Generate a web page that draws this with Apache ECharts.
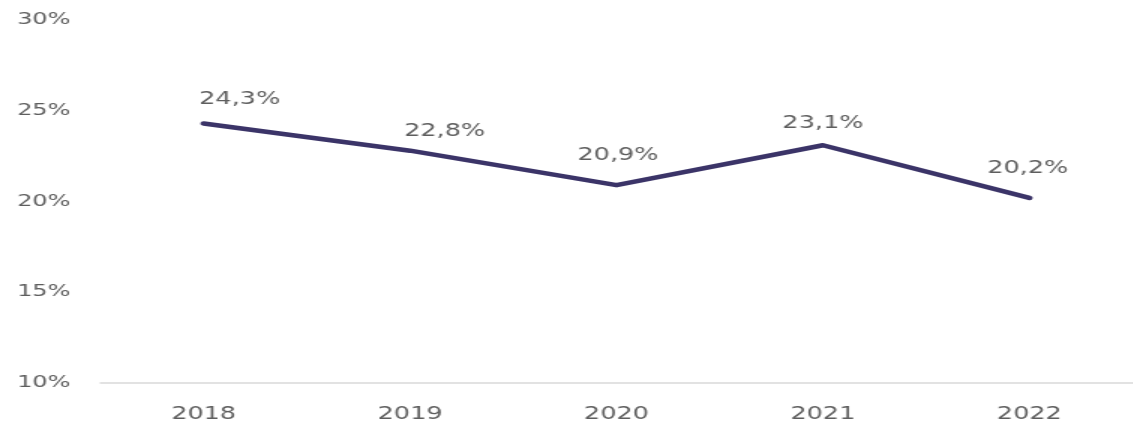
<!DOCTYPE html>
<html>
<head>
<meta charset="utf-8">
<script src="https://cdn.jsdelivr.net/npm/echarts@6/dist/echarts.min.js"></script>
<style>
html,body{margin:0;padding:0;background:#fff;overflow:hidden;}
#wrap{width:1133px;height:430px;overflow:hidden;}
/* reference is horizontally stretched: draw at 1/1.5 width and widen */
#chart{width:755px;height:430px;transform:scaleX(1.5);transform-origin:0 0;}
</style>
</head>
<body>
<div id="wrap"><div id="chart"></div></div>
<script>
const categories = ['2018', '2019', '2020', '2021', '2022'];
const values = [24.3, 22.8, 20.9, 23.1, 20.2];
const yTicks = [10, 15, 20, 25, 30];

// label placement nudges (layout only, in unstretched px)
const labelOffsets = [[24, -1], [23, 3], [1, -7], [0, 1], [-1, -7]];

const chart = echarts.init(document.getElementById('chart'));
const FONT = 'DejaVu Sans';
const TXT = '#5e5e5e';

chart.setOption({
  animation: false,
  grid: { left: 67, right: -10, top: 20, bottom: 47, containLabel: false },
  xAxis: {
    type: 'category',
    data: categories,
    boundaryGap: true,
    axisLine: { show: true, lineStyle: { color: '#d9d9d9', width: 1.5 } },
    axisTick: { show: false },
    axisLabel: { color: TXT, fontFamily: FONT, fontSize: 17, margin: 23 },
    splitLine: { show: false }
  },
  yAxis: {
    type: 'value',
    min: yTicks[0],
    max: yTicks[yTicks.length - 1],
    interval: yTicks[1] - yTicks[0],
    axisLine: { show: false },
    axisTick: { show: false },
    splitLine: { show: false },
    axisLabel: {
      color: TXT, fontFamily: FONT, fontSize: 16, margin: 20,
      formatter: v => v + '%'
    }
  },
  series: [{
    type: 'line',
    data: values.map((v, i) => ({
      value: v,
      label: { offset: labelOffsets[i] }
    })),
    symbol: 'circle',
    symbolSize: 0,
    showSymbol: true,
    lineStyle: { color: '#3b3468', width: 4.5, cap: 'round', join: 'round' },
    itemStyle: { color: '#3b3468' },
    label: {
      show: true,
      position: 'top',
      distance: 14,
      color: TXT,
      fontFamily: FONT,
      fontSize: 17,
      formatter: p => p.value.toFixed(1).replace('.', ',') + '%'
    }
  }]
});
</script>
</body>
</html>
